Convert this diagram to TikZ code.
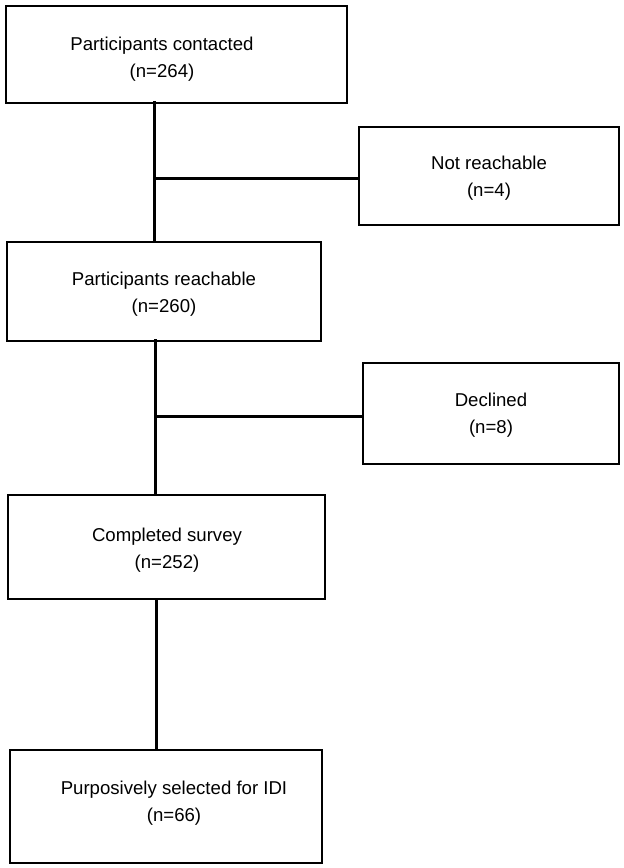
\documentclass[tikz,border=0pt]{standalone}
\usepackage{fontspec}
\setmainfont{Liberation Sans}
\begin{document}
\begin{tikzpicture}[x=1pt,y=-1pt,
  box/.style={draw=black,line width=2.2pt,fill=white,inner sep=0pt},
  lbl/.style={align=center,inner sep=0pt,font=\fontsize{18.6}{27}\selectfont},
  link/.style={line width=3pt}]
\useasboundingbox[fill=white] (0,0) rectangle (624,868);

% flow boxes (drawn from their corners)
\node[box,minimum width=341pt,minimum height=97pt]  (contacted) at (176.5,54.5) {};
\node[box,minimum width=260pt,minimum height=98pt]  (unreach)   at (489,176)   {};
\node[box,minimum width=314pt,minimum height=99pt]  (reachable) at (164,291.5) {};
\node[box,minimum width=256pt,minimum height=101pt] (declined)  at (491,413.5) {};
\node[box,minimum width=317pt,minimum height=104pt] (survey)    at (166.5,547) {};
\node[box,minimum width=312pt,minimum height=113pt] (idi)       at (166,806.5) {};

% box texts
\node[lbl] (t1) at (162,59)  {Participants contacted\\(n=264)};
\node[lbl] (t2) at (489,178) {Not reachable\\(n=4)};
\node[lbl] (t3) at (164,294) {Participants reachable\\(n=260)};
\node[lbl] (t4) at (491,415) {Declined\\(n=8)};
\node[lbl] (t5) at (167,550) {Completed survey\\(n=252)};
\node[lbl] (t6) at (174,803) {Purposively selected for IDI\\(n=66)};

% junctions on the main trunk
\coordinate (j1) at (154,178);
\coordinate (j2) at (155,416);
\coordinate (j3) at (156,674);

% trunk and side branches
\draw[link] ([yshift=3pt]j1 |- contacted.south) -- (j1 |- reachable.north);
\draw[link] (j1) -- (j1 -| unreach.west);
\draw[link] ([yshift=3pt]j2 |- reachable.south) -- (j2 |- survey.north);
\draw[link] (j2) -- (j2 -| declined.west);
\draw[link] (j3 |- survey.south) -- (j3 |- idi.north);
\end{tikzpicture}
\end{document}
